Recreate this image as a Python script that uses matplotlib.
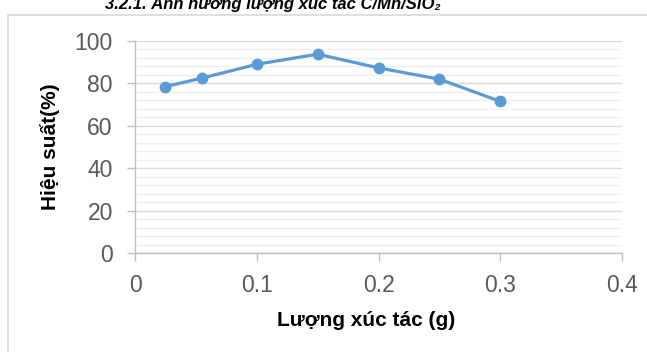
import matplotlib
matplotlib.use("Agg")
from matplotlib import pyplot as plt
from matplotlib.patches import Rectangle
from matplotlib.ticker import MultipleLocator
import numpy as np

plt.rcParams['font.family'] = ['Liberation Sans', 'DejaVu Sans']

# catalyst amount (g) vs. yield (%)
luong_xuc_tac = [0.025, 0.055, 0.1, 0.15, 0.2, 0.25, 0.3]
hieu_suat = [78.5, 82.5, 89, 93.8, 87.3, 82, 71.5]

x_ticks = [0, 0.1, 0.2, 0.3, 0.4]
x_ticklabels = ["0", "0.1", "0.2", "0.3", "0.4"]
y_ticks = [0, 20, 40, 60, 80, 100]

W, H = 647, 352
fig = plt.figure(figsize=(W/100, H/100), dpi=100)

# chart frame
fig.patches.append(Rectangle((8/W, -0.05), 1.0, 1 - 15/H + 0.05,
	transform=fig.transFigure, fill=False, edgecolor='#d9d9d9', lw=1.2))

# section heading, top of it runs off the page
fig.text(105/W, 1 - 9/H, "3.2.1. Ảnh hưởng lượng xúc tác C/Mn/SiO₂",
	fontsize=12, fontweight='bold', fontstyle='italic', va='baseline', ha='left')

ax = fig.add_axes([135/W, 1 - 253/H, (622-135)/W, (253-41)/H])

ax.plot(luong_xuc_tac, hieu_suat, color='#5B9BD5', lw=2.3, marker='o',
	markersize=7.5, markeredgecolor='#5B9BD5', markerfacecolor='#5B9BD5', zorder=3)

ax.set_xlim(0, 0.4)
ax.set_ylim(0, 100)
ax.set_xticks(x_ticks)
ax.set_xticklabels(x_ticklabels)
ax.set_yticks(y_ticks)
ax.yaxis.set_minor_locator(MultipleLocator(4))

ax.grid(axis='y', which='major', color='#d9d9d9', lw=1.0, zorder=0)
ax.grid(axis='y', which='minor', color='#f0f0f0', lw=1.0, zorder=0)
ax.set_axisbelow(True)

for s in ['top', 'right']:
	ax.spines[s].set_visible(False)
for s in ['left', 'bottom']:
	ax.spines[s].set_color('#bfbfbf')
	ax.spines[s].set_linewidth(1.0)

ax.tick_params(axis='both', which='major', direction='out', color='#bfbfbf',
	length=6, width=1.0, labelsize=16.5, labelcolor='#595959')
ax.tick_params(axis='x', pad=9)
ax.tick_params(axis='y', pad=10)
ax.tick_params(axis='y', which='minor', length=0)

ax.set_xlabel("Lượng xúc tác (g)", fontsize=15, fontweight='bold', color='black')
ax.xaxis.set_label_coords((366-135)/(622-135), -(320-253)/(253-41))
ax.xaxis.label.set_va('center')
ax.set_ylabel("Hiệu suất(%)", fontsize=15, fontweight='bold', color='black')
ax.yaxis.set_label_coords(-(135-50)/(622-135), 0.5)
ax.yaxis.label.set_va('center')

fig.savefig("out.png", dpi=100)
